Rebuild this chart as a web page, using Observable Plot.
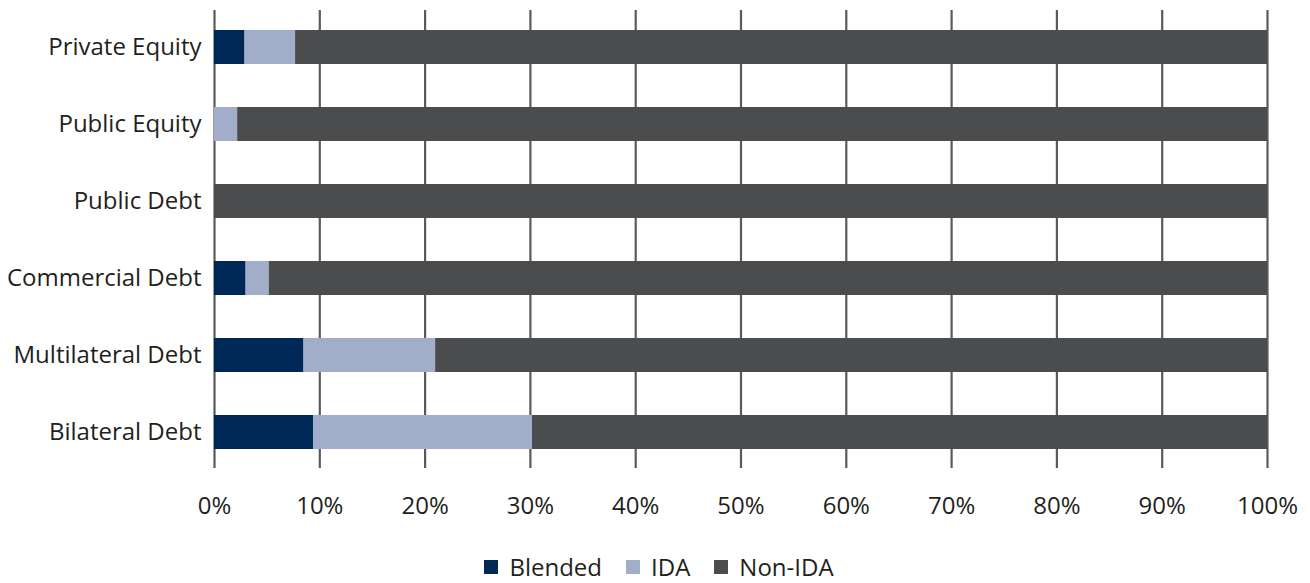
<!DOCTYPE html>
<html>
<head>
<meta charset="utf-8">
<script src="https://cdn.jsdelivr.net/npm/d3@7"></script>
<script src="https://cdn.jsdelivr.net/npm/@observablehq/plot@0.6"></script>
<style>
  html, body { margin: 0; padding: 0; background: #fff; }
  body { width: 1310px; height: 583px; overflow: hidden; font-family: "Open Sans", "Noto Sans", sans-serif; color: #231f20; }
  #chart svg { display: block; }
  #legend { display: flex; justify-content: center; gap: 24px; margin-top: 25px; font-size: 24px; line-height: 24px; padding-left: 8px; }
  .item { display: flex; align-items: center; }
  .sw { width: 14px; height: 14px; margin-right: 11px; }
</style>
</head>
<body>
<div id="chart"></div>
<div id="legend"></div>
<script>
const categories = ["Private Equity", "Public Equity", "Public Debt", "Commercial Debt", "Multilateral Debt", "Bilateral Debt"];
const seriesNames = ["Blended", "IDA", "Non-IDA"];
const blended = [2.9, 0, 0, 3.0, 8.5, 9.4];
const ida = [4.8, 2.2, 0, 2.2, 12.5, 20.8];
const nonIda = [92.3, 97.8, 100, 94.8, 79.0, 69.8];
const colors = ["#002856", "#a2adc9", "#4b4c4e"];
const xTicks = [0, 10, 20, 30, 40, 50, 60, 70, 80, 90, 100];

const seriesValues = [blended, ida, nonIda];
const data = [];
categories.forEach((c, i) => {
  seriesNames.forEach((s, j) => {
    data.push({category: c, series: s, value: seriesValues[j][i]});
  });
});

const chart = Plot.plot({
  width: 1310,
  height: 530,
  marginLeft: 214,
  marginRight: 43,
  marginTop: 10,
  marginBottom: 62,
  style: {fontFamily: "'Open Sans', 'Noto Sans', sans-serif", fontSize: "24px", color: "#231f20", background: "#fff"},
  x: {domain: [0, 100], ticks: xTicks, label: null},
  y: {domain: categories, paddingInner: 0.56, paddingOuter: 0.25, label: null},
  color: {domain: seriesNames, range: colors},
  marks: [
    Plot.ruleX(xTicks, {stroke: "#5a5a5a", strokeWidth: 2.2}),
    Plot.barX(data, Plot.stackX({x: "value", y: "category", fill: "series", order: seriesNames})),
    Plot.axisX({ticks: xTicks, tickFormat: d => d + "%", tickSize: 0, tickPadding: 28, fontSize: 24, fill: "#231f20", label: null}),
    Plot.axisY({tickSize: 0, tickPadding: 13, fontSize: 24, fill: "#231f20", label: null})
  ]
});
document.getElementById("chart").appendChild(chart);

const legend = document.getElementById("legend");
seriesNames.forEach((s, i) => {
  const it = document.createElement("div");
  it.className = "item";
  const sw = document.createElement("div");
  sw.className = "sw";
  sw.style.background = colors[i];
  const t = document.createElement("span");
  t.textContent = s;
  it.appendChild(sw);
  it.appendChild(t);
  legend.appendChild(it);
});
</script>
</body>
</html>
